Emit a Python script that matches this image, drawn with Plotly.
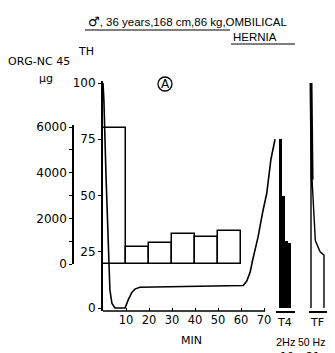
import plotly.graph_objects as go

# ---------------- data ----------------
# Thumb twitch height (TH, %) vs time (min)
th_min = [0, 0.4, 1.3, 2.2, 3.0, 3.9, 5.2, 9.6, 10.9, 12.6, 13.9, 16, 20, 30, 40, 50, 58, 61,
          62.5, 64, 65, 67.4, 69.5, 71.2, 73, 74.8]
th_val = [100, 92, 59, 26, 8, 2, 0, 0, 3.5, 7, 8.4, 9.2, 9.3, 9.4, 9.5, 9.7, 9.9, 10,
          12, 16, 21, 31.5, 43, 51, 66, 75]

# ORG-NC 45 dose (µg) per 10-min interval
dose_mid = [5, 15, 25, 35, 45, 55]
dose_ug = [5950, 760, 910, 1310, 1180, 1450]

# Train of four (2 Hz) responses
t4_idx = [1, 2, 3, 4]
t4_val = [75, 50, 30, 29]

# Tetanic fade (50 Hz) response
tf_t = [0, 0, 0.1, 0.25, 1.0, 2.1, 3.0, 3.0]
tf_val = [0, 100, 70, 57, 30, 25, 23.5, 0]

th_ticks = [0, 25, 50, 75, 100]
ug_ticks = [0, 1000, 2000, 3000, 4000, 5000, 6000]
ug_text = ["0", "", "2000", "", "4000", "", "6000"]
min_ticks = [10, 20, 30, 40, 50, 60, 70]

# ---------------- layout helpers ----------------
W, H = 335, 353
def fx(px):
    return px / W
def fy(py):
    return 1 - py / H

FONT = "DejaVu Sans"
K = "black"
CLEAR = "rgba(0,0,0,0)"

fig = go.Figure()

fig.add_trace(go.Bar(x=dose_mid, y=dose_ug, width=10, xaxis="x", yaxis="y2",
                     marker=dict(color=CLEAR, line=dict(color=K, width=1.5)),
                     showlegend=False))
fig.add_trace(go.Scatter(x=th_min, y=th_val, mode="lines", xaxis="x", yaxis="y",
                         line=dict(color=K, width=1.6), showlegend=False))
fig.add_trace(go.Bar(x=t4_idx, y=t4_val, width=1, xaxis="x3", yaxis="y",
                     marker=dict(color=K, line=dict(width=0)), showlegend=False))
fig.add_trace(go.Scatter(x=tf_t, y=tf_val, mode="lines", xaxis="x4", yaxis="y",
                         line=dict(color=K, width=1.4), showlegend=False))
fig.add_trace(go.Scatter(x=tf_t[1:4], y=tf_val[1:4], mode="lines", xaxis="x4", yaxis="y",
                         line=dict(color=K, width=3), showlegend=False))

tickfont = dict(family=FONT, size=12, color=K)

fig.update_layout(
    template="none",
    width=W, height=H, margin=dict(l=0, r=0, t=0, b=0, pad=0),
    paper_bgcolor="white", plot_bgcolor=CLEAR, bargap=0, showlegend=False,
    xaxis=dict(domain=[fx(103), fx(280)], range=[0, (280 - 103) / 2.3], anchor="y",
               automargin=False,
               showline=False, showgrid=False, zeroline=False,
               tickvals=min_ticks, ticks="inside", ticklen=3, tickwidth=1.2, tickcolor=K,
               tickfont=dict(family=FONT, size=11.5, color=K)),
    yaxis=dict(domain=[fy(311), fy(81)], range=[-(311 - 308) / 2.25, (308 - 81) / 2.25],
               anchor="x", automargin=False, showline=True, linecolor=K, linewidth=2,
               showgrid=False, zeroline=False, tickvals=th_ticks, ticks="outside", ticklen=3,
               tickcolor=K, tickfont=tickfont),
    yaxis2=dict(domain=[fy(264), fy(125)], range=[0, (264 - 125) / 22.83 * 1000],
                anchor="free", position=fx(73), side="left", automargin=False,
                showline=True, linecolor=K,
                linewidth=1.5, showgrid=False, zeroline=False, tickvals=ug_ticks,
                ticktext=ug_text, ticks="outside", ticklen=3, tickcolor=K, tickfont=tickfont),
    xaxis3=dict(domain=[fx(276), fx(295)], range=[-0.5, (295 - 277.5) / 3], anchor="y",
                automargin=False,
                showline=True, linecolor=K, linewidth=1.5, showgrid=False, zeroline=False,
                showticklabels=False, ticks=""),
    xaxis4=dict(domain=[fx(309), fx(327)], range=[-2 / 4.33, 16 / 4.33], anchor="y",
                automargin=False,
                showline=True, linecolor=K, linewidth=1.5, showgrid=False, zeroline=False,
                showticklabels=False, ticks=""),
)

shapes = [
    # x baseline (0-70 min)
    dict(type="line", xref="x", yref="paper", x0=0, x1=70.5, y0=fy(311), y1=fy(311),
         line=dict(color=K, width=1.5)),
    # underlines of title
    dict(type="line", xref="paper", yref="paper", x0=fx(85), x1=fx(230), y0=fy(30), y1=fy(30),
         line=dict(color=K, width=1)),
    dict(type="line", xref="paper", yref="paper", x0=fx(231), x1=fx(295), y0=fy(44), y1=fy(44),
         line=dict(color=K, width=1)),
    # circled A
    dict(type="circle", xref="paper", yref="paper", x0=fx(158), x1=fx(172), y0=fy(91), y1=fy(77),
         line=dict(color=K, width=1.3)),
]
fig.update_layout(shapes=shapes)

def txt(s, x, y, size=12, xanchor="center", family=FONT):
    return dict(text=s, x=fx(x), y=fy(y), xref="paper", yref="paper", showarrow=False,
                xanchor=xanchor, yanchor="middle",
                font=dict(family=family, size=size, color=K))

annotations = [
    txt("<span style=\"font-family:'DejaVu Sans';font-size:13px\">♂</span>,"
        " 36 years,168 cm,86 kg,OMBILICAL", 86, 22, 11.5, "left", "Liberation Sans"),
    txt("HERNIA", 231, 37, 11.5, "left", "Liberation Sans"),
    txt("TH", 86, 52, 11),
    txt("ORG-NC 45", 39, 61, 11),
    txt("µg", 46, 78, 11),
    txt("A", 165, 84, 12),
    txt("MIN", 191, 340, 11),
    txt("T4", 284, 322, 11),
    txt("TF", 317, 322, 11),
    txt("2Hz", 286, 342, 11, family="Liberation Sans"),
    txt("50 Hz", 311, 342, 10.5, family="Liberation Sans"),
    txt("10", 287, 356, 11),
    txt("21", 313, 356, 11),
]
fig.update_layout(annotations=annotations)

fig.write_html("out.html", config={"displayModeBar": False},
               post_script="document.body.style.margin='0';document.body.style.overflow='hidden';")
